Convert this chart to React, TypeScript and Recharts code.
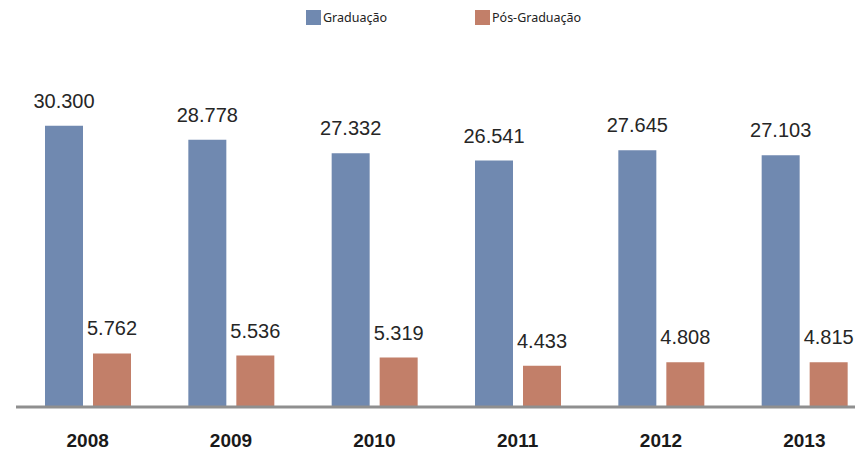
import React from 'react';
import { BarChart, Bar, XAxis, YAxis, LabelList } from 'recharts';

const years = ['2008', '2009', '2010', '2011', '2012', '2013'];
const graduacao = [30300, 28778, 27332, 26541, 27645, 27103];
const posGraduacao = [5762, 5536, 5319, 4433, 4808, 4815];

const seriesNames = ['Graduação', 'Pós-Graduação'];
const seriesColors = ['#7089b0', '#c27f69'];

const data = years.map((year, i) => ({
  year,
  grad: graduacao[i],
  pos: posGraduacao[i],
}));

const fmt = (v: any) => Number(v).toLocaleString('pt-BR');

const App: React.FC = () => {
  return (
    <div style={{ position: 'absolute', left: 0, top: 0, width: 855, height: 453, overflow: 'hidden', background: '#fff' }}>
      {seriesNames.map((name, i) => (
        <div
          key={name}
          style={{
            position: 'absolute',
            top: 10,
            left: 306 + i * 169,
            display: 'flex',
            alignItems: 'center',
            fontFamily: '"Noto Sans", sans-serif',
            fontSize: 12.5,
            color: '#222',
            lineHeight: '15px',
          }}
        >
          <span style={{ display: 'inline-block', width: 15, height: 15, background: seriesColors[i], marginRight: 2 }} />
          <span>{name}</span>
        </div>
      ))}
      <BarChart
        width={880}
        height={453}
        data={data}
        margin={{ top: 82, right: 4, left: 16, bottom: 0 }}
        barSize={38}
        barGap={10}
      >
        <XAxis
          dataKey="year"
          height={46}
          tickLine={false}
          tickSize={0}
          tickMargin={27}
          axisLine={{ stroke: '#8f8f8f', strokeWidth: 3 }}
          tick={{ fontSize: 19, fontWeight: 'bold', fill: '#1a1a1a', fontFamily: 'Arial, "Liberation Sans", sans-serif' }}
        />
        <YAxis hide domain={[0, 35000]} />
        <Bar dataKey="grad" fill={seriesColors[0]} isAnimationActive={false}>
          <LabelList
            dataKey="grad"
            position="top"
            offset={18}
            formatter={fmt}
            style={{ fontSize: 20, fill: '#262626', fontFamily: 'Arial, "Liberation Sans", sans-serif' }}
          />
        </Bar>
        <Bar dataKey="pos" fill={seriesColors[1]} isAnimationActive={false}>
          <LabelList
            dataKey="pos"
            position="top"
            offset={18}
            formatter={fmt}
            style={{ fontSize: 20, fill: '#262626', fontFamily: 'Arial, "Liberation Sans", sans-serif' }}
          />
        </Bar>
      </BarChart>
    </div>
  );
};

export default App;
